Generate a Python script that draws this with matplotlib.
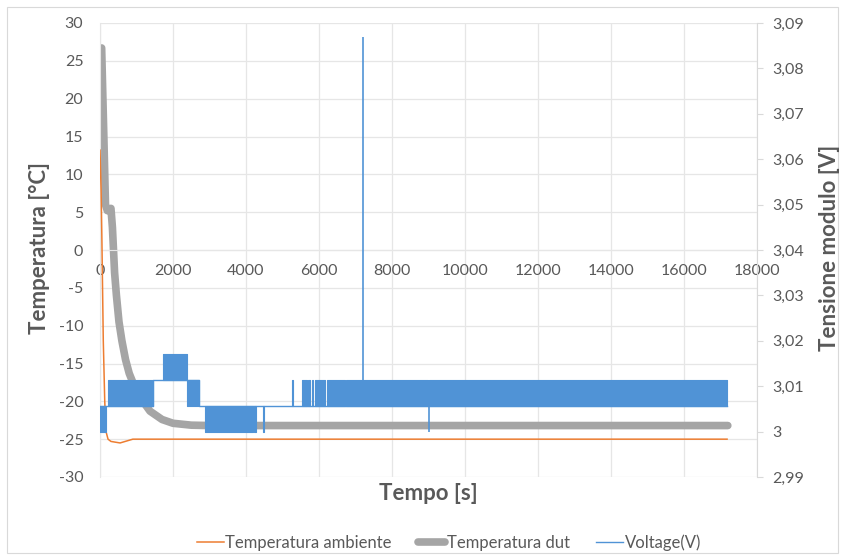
import matplotlib.pyplot as plt
from matplotlib.patches import Rectangle
from matplotlib.ticker import FuncFormatter, MultipleLocator

plt.rcParams['font.family'] = ['Lato', 'DejaVu Sans']
plt.rcParams['axes.unicode_minus'] = False

# temperatura ambiente (orange)
amb_t = [0, 30, 50, 90, 130, 165, 220, 300, 550, 900, 1500, 17180]
amb_T = [13.2, 8, 2, -12, -20, -24, -25, -25.3, -25.5, -25.0, -25.0, -25.0]

# temperatura dut (grey, thick)
dut_t = [45, 100, 150, 200, 300, 340, 400, 450, 520, 600, 700, 800, 900,
         1100, 1370, 1700, 2000, 2500, 3000, 17200]
dut_T = [26.7, 16, 6, 5.2, 5.5, 3, -3, -6, -9.5, -12, -14.5, -16.3, -17.5,
         -19.5, -21.3, -22.4, -22.9, -23.15, -23.2, -23.2]

# voltage: base step trace
volt_t = [0, 1460, 2713, 17180]
volt_v = [3.0057, 3.0114, 3.0057, 3.0057]

# zones where the reading toggles fast between two adc levels
band_t0 = [0, 228, 1735, 2375, 2877, 4230, 4470, 5270, 5525, 5700, 5800, 5890, 6210, 6730, 9015]
band_t1 = [165, 1460, 2375, 2713, 4200, 4265, 4485, 5290, 5660, 5750, 5845, 6165, 6715, 8985, 17180]
band_lo = [3.0, 3.0057, 3.0114, 3.0057, 3.0, 3.0, 3.0, 3.0057, 3.0057, 3.0057, 3.0057, 3.0057, 3.0057, 3.0057, 3.0057]
band_hi = [3.0057, 3.0114, 3.0171, 3.0114, 3.0057, 3.0057, 3.0057, 3.0114, 3.0114, 3.0114, 3.0114, 3.0114, 3.0114, 3.0114, 3.0114]

# single spikes
spike_t = [7197, 9000]
spike_lo = [3.0114, 3.0]
spike_hi = [3.0869, 3.0114]

orange = '#ED7D31'
grey = '#A5A5A5'
blue = '#5093D6'
txt = '#595959'
gridc = '#E6E6E6'

fig = plt.figure(figsize=(8.46, 5.59), dpi=100)
ax = fig.add_axes([100/846, 1 - 477/559, 657/846, 454/559])
ax2 = ax.twinx()

l1, = ax.plot(amb_t, amb_T, color=orange, lw=1.1, zorder=3)
l2, = ax.plot(dut_t, dut_T, color=grey, lw=5.5, solid_capstyle='round', zorder=2)

l3, = ax2.plot(volt_t, volt_v, color=blue, lw=1.0, drawstyle='steps-post')
for t0, t1, lo, hi in zip(band_t0, band_t1, band_lo, band_hi):
    ax2.fill_between([t0, t1], lo, hi, color=blue, lw=0.8)
ax2.vlines(spike_t, spike_lo, spike_hi, color=blue, lw=1.2)

ax.set_xlim(0, 18000)
ax.set_ylim(-30, 30)
ax2.set_ylim(2.99, 3.09)
ax.xaxis.set_major_locator(MultipleLocator(2000))
ax.yaxis.set_major_locator(MultipleLocator(5))
ax2.yaxis.set_major_locator(MultipleLocator(0.01))


def comma_fmt(v, pos):
    s = f"{v:.2f}".rstrip('0').rstrip('.')
    return s.replace('.', ',')


ax2.yaxis.set_major_formatter(FuncFormatter(comma_fmt))

ax.grid(True, color=gridc, lw=0.9)
ax.set_axisbelow(True)
for s in ['top', 'right']:
    ax.spines[s].set_visible(False)
ax.spines['left'].set_color(gridc)
ax.spines['bottom'].set_position(('data', 0))
ax.spines['bottom'].set_color(gridc)
for s in ['top', 'left', 'bottom']:
    ax2.spines[s].set_visible(False)
ax2.spines['right'].set_color('#D9D9D9')

ax.tick_params(axis='x', length=0, pad=10, labelsize=11.5, labelcolor=txt)
ax.tick_params(axis='y', length=0, pad=12, labelsize=11.5, labelcolor=txt)
ax2.tick_params(axis='y', length=4, color='#D9D9D9', pad=7, labelsize=11.5, labelcolor=txt)

fig.text(40/846, 1 - 248/559, 'Temperatura [°C]', rotation=90, ha='center', va='center',
         fontsize=16, fontweight='bold', color=txt)
fig.text(829/846, 1 - 248/559, 'Tensione modulo [V]', rotation=90, ha='center', va='center',
         fontsize=16, fontweight='bold', color=txt)
fig.text(428/846, 1 - 494/559, 'Tempo [s]', ha='center', va='center',
         fontsize=16, fontweight='bold', color=txt)

fig.legend([l1, l2, l3], ['Temperatura ambiente', 'Temperatura dut', 'Voltage(V)'],
           loc='center', bbox_to_anchor=(449/846, 1 - 543/559), ncol=3, frameon=False,
           fontsize=12, handlelength=1.6, handletextpad=0.1, columnspacing=1.6,
           labelcolor=txt)

# chart frame
fig.patches.append(Rectangle((7/846, 6/559), 831/846, 546/559, transform=fig.transFigure,
                             fill=False, edgecolor='#D9D9D9', lw=0.8))

fig.savefig('out.png', dpi=100)
